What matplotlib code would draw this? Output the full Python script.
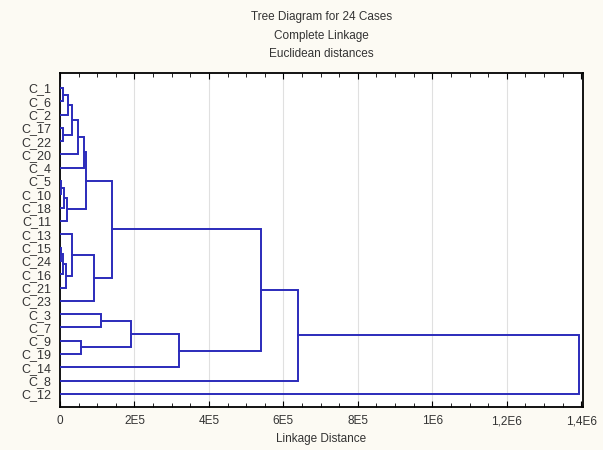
import matplotlib
matplotlib.use("Agg")
import matplotlib.pyplot as plt
from matplotlib.ticker import MultipleLocator

plt.rcParams["font.family"] = ["Liberation Sans", "DejaVu Sans"]

# leaf order from top to bottom
leaf_labels = ["C_1", "C_6", "C_2", "C_17", "C_22", "C_20", "C_4", "C_5",
               "C_10", "C_18", "C_11", "C_13", "C_15", "C_24", "C_16", "C_21",
               "C_23", "C_3", "C_7", "C_9", "C_19", "C_14", "C_8", "C_12"]

# merges: node N{k} joins merge_left[k] and merge_right[k] at merge_height[k]
merge_left = ["C_1", "N0", "C_17", "N1", "N3", "N4", "C_5", "N6", "N7", "N5",
              "C_15", "N10", "N11", "C_13", "N13", "N9", "C_3", "C_9", "N16",
              "N18", "N15", "N20", "N21"]
merge_right = ["C_6", "C_2", "C_22", "N2", "C_20", "C_4", "C_10", "C_18",
               "C_11", "N8", "C_24", "C_16", "C_21", "N12", "C_23", "N14",
               "C_7", "C_19", "N17", "C_14", "N19", "C_8", "C_12"]
merge_height = [8e3, 2.2e4, 8e3, 3.2e4, 4.8e4, 6.4e4, 4e3, 1.1e4, 2e4, 7e4,
                3e3, 8e3, 1.6e4, 3.2e4, 9.1e4, 1.4e5, 1.1e5, 5.6e4, 1.9e5,
                3.2e5, 5.4e5, 6.4e5, 1.395e6]

x_ticks = [0, 2e5, 4e5, 6e5, 8e5, 1e6, 1.2e6, 1.4e6]
x_tick_labels = ["0", "2E5", "4E5", "6E5", "8E5", "1E6", "1,2E6", "1,4E6"]

line_color = "#2b2bbb"
text_color = "#333333"

fig = plt.figure(figsize=(6.03, 4.50), dpi=100, facecolor="#fcfaf3")
ax = fig.add_axes([0.0995, 0.0956, 0.8675, 0.7424])
ax.set_facecolor("white")

# node positions: (height, y)
pos = {lab: (0.0, i) for i, lab in enumerate(leaf_labels)}
for k, (a, b, h) in enumerate(zip(merge_left, merge_right, merge_height)):
    ha, ya = pos[a]
    hb, yb = pos[b]
    ax.plot([ha, h, h, hb], [ya, ya, yb, yb], color=line_color, lw=1.4,
            solid_joinstyle="miter", zorder=3)
    pos[f"N{k}"] = (h, (ya + yb) / 2)

for t in x_ticks[1:-1]:
    ax.axvline(t, color="#e0e0e0", lw=0.8, zorder=1)

ax.set_xlim(0, 1.405e6)
ax.set_ylim(23.98, -1.13)
ax.set_xticks(x_ticks)
ax.set_xticklabels(x_tick_labels, fontsize=8.5, color=text_color)
ax.xaxis.set_minor_locator(MultipleLocator(5e4))
ax.tick_params(axis="x", which="both", direction="in", top=True)
ax.tick_params(axis="x", which="major", length=4, pad=6)
ax.tick_params(axis="x", which="minor", length=3)
ax.set_yticks(range(len(leaf_labels)))
ax.set_yticklabels(leaf_labels, fontsize=9, color=text_color)
ax.tick_params(axis="y", length=0, pad=6)
for sp in ax.spines.values():
    sp.set_linewidth(1.3)

ax.set_xlabel("Linkage Distance", fontsize=8.5, color=text_color, labelpad=4)
fig.text(0.533, 0.962, "Tree Diagram for 24 Cases", ha="center", va="center",
         fontsize=8.5, color=text_color)
fig.text(0.533, 0.921, "Complete Linkage", ha="center", va="center",
         fontsize=8.5, color=text_color)
fig.text(0.533, 0.881, "Euclidean distances", ha="center", va="center",
         fontsize=8.5, color=text_color)

fig.savefig("out.png", dpi=100, facecolor=fig.get_facecolor())
